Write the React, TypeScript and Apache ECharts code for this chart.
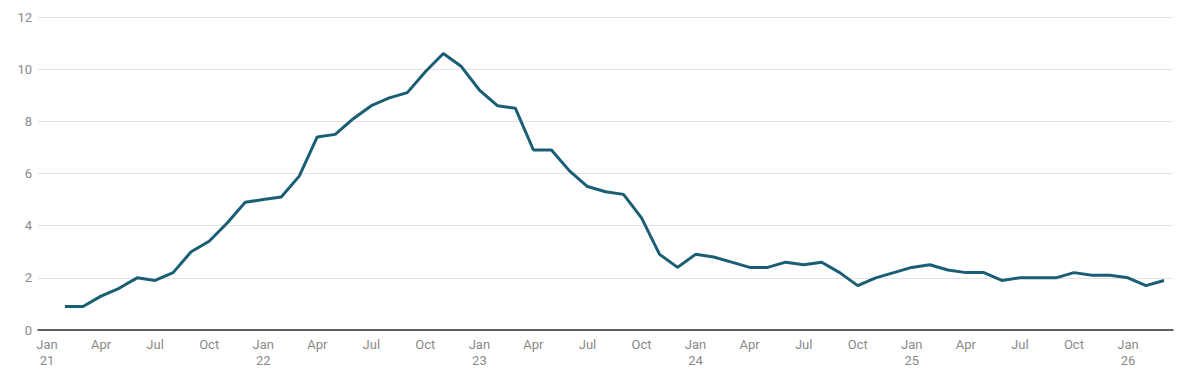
import React, { useEffect, useRef } from "react";
import * as echarts from "echarts";

const MONTHS = ["Jan", "Feb", "Mar", "Apr", "May", "Jun", "Jul", "Aug", "Sep", "Oct", "Nov", "Dec"];
const YEARS = ["21", "22", "23", "24", "25", "26"];

// categories: Jan 2021 .. Mar 2026
const categories: string[] = [];
YEARS.forEach((y) => {
  MONTHS.forEach((m, i) => {
    if (y === "26" && i > 2) return;
    categories.push(m + " " + y);
  });
});

const values: (number | null)[] = [
  null, 0.9, 0.9, 1.3, 1.6, 2.0, 1.9, 2.2, 3.0, 3.4, 4.1, 4.9,
  5.0, 5.1, 5.9, 7.4, 7.5, 8.1, 8.6, 8.9, 9.1, 9.9, 10.6, 10.1,
  9.2, 8.6, 8.5, 6.9, 6.9, 6.1, 5.5, 5.3, 5.2, 4.3, 2.9, 2.4,
  2.9, 2.8, 2.6, 2.4, 2.4, 2.6, 2.5, 2.6, 2.2, 1.7, 2.0, 2.2,
  2.4, 2.5, 2.3, 2.2, 2.2, 1.9, 2.0, 2.0, 2.0, 2.2, 2.1, 2.1,
  2.0, 1.7, 1.9,
];

export default function App() {
  const ref = useRef<HTMLDivElement>(null);
  useEffect(() => {
    if (!ref.current) return;
    const chart = echarts.init(ref.current, undefined, { renderer: "svg" });
    chart.setOption({
      animation: false,
      textStyle: { fontFamily: "Roboto" },
      grid: { left: 38, right: 27, top: 17, bottom: 55, containLabel: false },
      xAxis: {
        type: "category",
        data: categories,
        boundaryGap: true,
        axisLine: { lineStyle: { color: "#333333", width: 1.5 } },
        axisTick: { show: false },
        axisLabel: {
          interval: 2,
          color: "#8a8a8a",
          fontSize: 13,
          lineHeight: 16,
          margin: 6,
          formatter: (v: string) => {
            const [m, y] = v.split(" ");
            return m === "Jan" ? m + "\n" + y : m;
          },
        },
      },
      yAxis: {
        type: "value",
        min: 0,
        max: 12,
        interval: 2,
        axisLine: { show: false },
        axisTick: { show: false },
        splitLine: { lineStyle: { color: "#e3e3e3", width: 1 } },
        axisLabel: { color: "#8a8a8a", fontSize: 13, margin: 6 },
      },
      series: [
        {
          type: "line",
          data: values,
          symbol: "none",
          lineStyle: { color: "#1a5e76", width: 3 },
          connectNulls: false,
        },
      ],
    });
    return () => chart.dispose();
  }, []);
  return (
    <div
      ref={ref}
      style={{ position: "fixed", left: 0, top: 0, width: 1200, height: 385, background: "#fff" }}
    />
  );
}
